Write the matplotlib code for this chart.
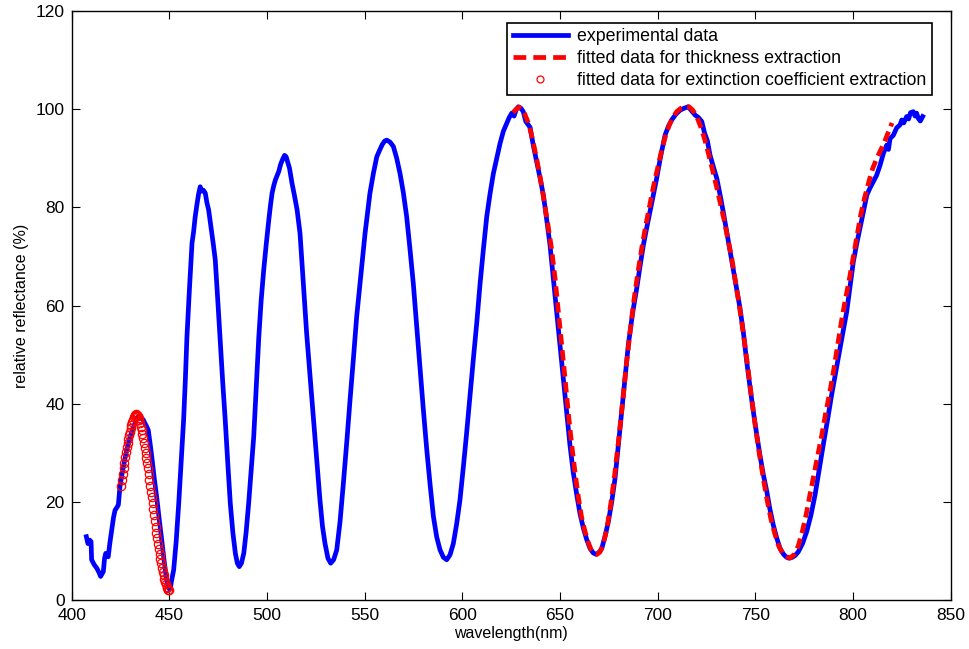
import numpy as np
import matplotlib
matplotlib.use("Agg")
import matplotlib.pyplot as plt
from matplotlib.lines import Line2D

plt.rcParams['font.family'] = ['Liberation Sans', 'DejaVu Sans']

# experimental data (wavelength nm, relative reflectance %)
exp_wl = [407.5, 408.3, 409.2, 409.9, 410.2, 411.5, 412.8, 414.0, 414.8, 415.5, 416.2, 416.8, 417.4, 418.0, 418.7,
          419.5, 420.5, 421.4, 422.2, 423.2, 423.9, 424.7, 425.8, 427.3, 428.6, 429.9, 431.2, 432.4, 433.2, 434.1,
          435.0, 436.0, 436.7, 437.5, 438.3, 439.2, 440.1, 441.0, 442.2, 443.5, 444.8, 446.1, 447.3, 448.6, 449.4,
          450.0, 450.6, 451.2, 452.2, 453.5, 454.8, 456.0, 457.3, 458.2, 459.0, 460.3, 461.6, 462.4, 463.2, 464.2,
          465.0, 465.8, 466.6, 467.4, 468.4, 469.2, 470.1, 471.5, 472.5, 473.5, 474.8, 476.1, 477.3, 478.6, 479.9,
          481.2, 482.5, 483.8, 484.8, 485.8, 486.9, 488.1, 489.3, 490.6, 491.9, 493.2, 494.5, 495.8, 497.0, 498.3,
          499.6, 500.9, 501.8, 502.6, 503.5, 504.3, 505.2, 506.0, 507.0, 508.0, 509.0, 509.8, 510.6, 511.5, 512.8,
          514.0, 515.4, 516.9, 518.6, 520.3, 522.0, 523.7, 525.4, 527.1, 528.4, 529.7, 531.2, 532.6, 534.1, 535.7,
          537.4, 539.1, 540.8, 542.5, 544.2, 545.9, 547.6, 549.0, 550.2, 551.5, 552.7, 554.5, 556.2, 557.5, 559.0,
          560.2, 561.3, 563.0, 564.7, 566.4, 568.1, 569.8, 571.5, 573.2, 574.9, 576.6, 578.3, 580.0, 581.8, 583.5,
          585.2, 586.9, 588.6, 590.3, 592.0, 593.7, 595.4, 597.1, 598.8, 600.5, 602.2, 603.9, 605.6, 607.4, 609.1,
          610.8, 612.5, 614.2, 615.9, 617.6, 619.3, 621.0, 622.7, 624.0, 625.3, 626.5, 627.5, 628.7, 630.0, 631.2,
          632.5, 634.7, 636.4, 638.1, 639.8, 641.5, 643.2, 644.9, 646.6, 648.3, 650.0, 651.7, 653.4, 655.1, 656.8,
          658.6, 660.3, 662.0, 663.7, 665.4, 667.0, 668.5, 670.0, 671.4, 673.1, 674.8, 676.5, 678.2, 679.9, 681.6,
          683.3, 685.0, 687.2, 689.3, 691.0, 692.7, 694.4, 696.1, 697.8, 699.5, 701.6, 703.8, 705.5, 707.2, 709.4,
          711.5, 713.6, 715.7, 717.5, 719.2, 720.9, 722.6, 724.0, 725.5, 726.8, 728.5, 730.3, 732.0, 733.6, 735.4,
          737.1, 738.8, 740.5, 742.2, 743.9, 745.6, 747.3, 749.0, 750.7, 752.4, 754.1, 755.9, 757.5, 759.2, 761.0,
          762.7, 764.5, 766.0, 767.4, 769.0, 770.5, 772.0, 774.2, 776.3, 778.5, 780.6, 782.7, 784.8, 787.0, 789.1,
          791.2, 793.4, 795.1, 796.8, 798.5, 800.2, 801.9, 803.6, 805.3, 807.1, 808.8, 810.4, 812.1, 813.9, 815.6,
          817.3, 818.2, 819.0, 820.7, 822.4, 824.1, 825.0, 826.0, 827.5, 828.5, 829.5, 830.9, 831.8, 832.6, 833.5,
          834.5, 835.7]
exp_val = [12.9, 11.5, 12.2, 11.9, 8.2, 7.2, 6.5, 5.6, 4.8, 5.3, 5.8, 8.4, 9.5, 9.2, 8.8,
           11.5, 14.3, 16.8, 18.3, 18.9, 19.4, 23.1, 25.8, 28.9, 31.3, 33.3, 34.8, 36.0, 36.9, 37.3,
           37.0, 36.9, 36.7, 36.0, 35.4, 34.6, 32.0, 29.2, 25.0, 21.0, 16.5, 12.2, 8.0, 4.1, 2.8,
           2.2, 2.7, 4.1, 6.1, 12.0, 19.7, 28.0, 36.7, 45.0, 53.6, 63.5, 72.7, 75.0, 78.0, 80.8,
           82.8, 84.2, 83.3, 83.5, 82.9, 81.0, 79.5, 75.5, 72.5, 69.3, 61.0, 52.3, 44.5, 36.7, 28.0,
           19.7, 13.8, 9.5, 7.5, 6.8, 7.5, 9.5, 13.8, 19.7, 26.5, 33.3, 43.5, 53.6, 61.0, 67.2,
           72.5, 77.4, 80.5, 82.9, 84.5, 85.6, 86.5, 87.3, 88.8, 89.8, 90.6, 90.3, 89.2, 88.0, 84.9,
           82.5, 79.5, 74.7, 64.5, 54.3, 45.8, 37.3, 28.8, 20.4, 15.0, 11.5, 8.5, 7.5, 8.2, 10.2,
           16.0, 23.8, 32.0, 40.7, 49.0, 57.7, 64.5, 70.0, 74.7, 79.0, 82.9, 87.0, 90.3, 91.5, 92.8,
           93.5, 93.7, 93.3, 92.4, 90.0, 86.9, 83.0, 78.1, 71.5, 64.5, 56.0, 47.5, 39.0, 30.6, 23.5,
           17.0, 12.8, 10.2, 8.7, 8.2, 9.2, 11.5, 15.5, 20.4, 27.0, 34.0, 41.5, 48.9, 56.5, 64.5,
           71.5, 78.1, 82.8, 86.9, 90.0, 93.0, 95.5, 97.1, 98.3, 99.2, 98.6, 99.8, 100.5, 100.2, 99.5,
           97.5, 96.3, 92.5, 89.3, 86.0, 82.5, 77.5, 72.3, 65.5, 58.7, 52.0, 45.2, 38.3, 31.6, 26.0,
           21.4, 17.5, 14.6, 12.3, 10.5, 9.6, 9.3, 9.7, 10.5, 13.0, 16.0, 20.0, 24.8, 31.5, 38.4,
           45.2, 52.0, 58.5, 63.5, 68.0, 72.3, 75.8, 79.1, 82.5, 85.9, 90.5, 94.7, 96.5, 97.8, 99.0,
           99.8, 100.2, 100.5, 99.6, 98.8, 98.3, 97.5, 95.2, 93.5, 90.7, 88.3, 85.9, 82.5, 79.1, 75.0,
           71.0, 67.2, 63.5, 59.4, 54.5, 48.6, 43.4, 38.4, 33.8, 29.5, 25.6, 22.1, 18.5, 15.3, 12.6,
           10.5, 9.3, 8.7, 8.5, 8.7, 9.1, 9.8, 11.5, 13.9, 17.3, 21.4, 26.5, 31.6, 36.7, 41.8,
           46.5, 51.3, 55.0, 58.7, 63.8, 68.9, 72.5, 75.7, 79.0, 82.5, 84.0, 85.2, 86.5, 88.6, 91.0,
           92.7, 91.8, 94.0, 94.7, 96.2, 96.8, 97.8, 97.2, 98.5, 98.0, 99.3, 99.5, 98.6, 99.2, 98.1,
           97.6, 98.5]

# fitted data for thickness extraction
fit_wl = [626.0, 627.5, 629.0, 630.5, 632.0, 634.0, 636.0, 638.0, 640.0, 642.0, 644.0, 645.7, 647.5, 649.1, 651.0,
          652.5, 654.3, 655.9, 657.7, 659.4, 661.0, 662.8, 664.5, 666.0, 667.5, 669.0, 670.5, 672.0, 674.0, 676.0,
          678.0, 680.0, 682.0, 684.0, 686.0, 688.0, 690.0, 692.0, 694.0, 696.0, 698.0, 700.0, 702.0, 704.0, 706.0,
          708.0, 710.0, 712.0, 714.0, 716.0, 718.0, 720.0, 722.0, 724.0, 726.0, 728.0, 730.0, 732.0, 734.0, 736.0,
          738.0, 740.0, 742.0, 744.0, 746.0, 748.0, 750.0, 752.0, 754.0, 756.0, 758.0, 760.0, 762.0, 764.0, 766.0,
          768.0, 770.0, 772.0, 774.0, 776.0, 778.0, 780.0, 782.0, 784.0, 786.0, 788.0, 790.0, 792.0, 794.0, 796.0,
          798.0, 800.0, 802.0, 804.0, 806.0, 808.0, 810.0, 812.0, 814.0, 816.0, 818.0, 820.0]
fit_val = [99.3, 100.0, 100.4, 100.0, 99.0, 97.0, 93.8, 90.0, 85.8, 81.0, 76.0, 71.5, 65.5, 59.0, 51.5,
           45.5, 38.0, 32.0, 26.0, 21.0, 17.0, 14.0, 11.7, 10.2, 9.5, 9.3, 9.8, 11.2, 14.5, 19.5,
           25.5, 32.5, 40.0, 48.0, 55.0, 61.5, 67.0, 72.0, 76.5, 80.5, 84.5, 88.0, 91.5, 94.5, 96.8,
           98.5, 99.6, 100.2, 100.5, 100.5, 99.8, 98.5, 96.5, 94.0, 91.0, 87.8, 84.5, 81.0, 77.5, 73.5,
           69.5, 64.5, 59.5, 54.0, 48.0, 41.5, 35.5, 30.0, 25.0, 20.5, 16.5, 13.5, 11.0, 9.5, 8.8,
           8.6, 9.3, 11.0, 13.8, 17.3, 21.5, 25.5, 29.5, 33.5, 38.0, 42.0, 46.5, 51.5, 56.5, 61.0,
           65.0, 69.5, 74.0, 78.5, 82.0, 85.0, 87.8, 89.8, 91.5, 93.2, 95.2, 97.2]

# fitted data for extinction coefficient extraction
ext_wl = [425.4, 425.8, 426.2, 426.6, 427.0, 427.4, 427.8, 428.2, 428.6, 429.0, 429.4, 429.8, 430.2, 430.6, 431.0,
          431.4, 431.8, 432.2, 432.6, 433.0, 433.4, 433.8, 434.2, 434.6, 435.0, 435.4, 435.8, 436.2, 436.6, 437.0,
          437.4, 437.8, 438.2, 438.6, 439.0, 439.4, 439.8, 440.2, 440.6, 441.0, 441.4, 441.8, 442.2, 442.6, 443.0,
          443.4, 443.8, 444.2, 444.6, 445.0, 445.4, 445.8, 446.2, 446.6, 447.0, 447.4, 447.8, 448.2, 448.6, 449.0,
          449.4, 449.8]
ext_val = [23.2, 24.5, 25.7, 26.9, 28.0, 29.2, 30.2, 31.1, 32.0, 32.8, 33.6, 34.3, 35.0, 35.6, 36.2,
           36.7, 37.2, 37.5, 37.7, 37.8, 37.7, 37.5, 37.1, 36.6, 36.0, 35.3, 34.6, 33.8, 33.0, 32.0,
           31.0, 30.0, 29.0, 27.9, 26.8, 25.7, 24.5, 23.3, 22.1, 20.9, 19.7, 18.5, 17.3, 16.1, 14.9,
           13.7, 12.6, 11.5, 10.4, 9.4, 8.4, 7.5, 6.6, 5.8, 5.0, 4.3, 3.7, 3.2, 2.7, 2.4,
           2.1, 2.0]

x_ticks = [400, 450, 500, 550, 600, 650, 700, 750, 800, 850]
y_ticks = [0, 20, 40, 60, 80, 100, 120]

fig = plt.figure(figsize=(9.69, 6.49), dpi=100)
ax = fig.add_axes([0.074, 0.0755, 0.907, 0.9075])

ax.plot(exp_wl, exp_val, color=(0, 0, 1), lw=3.4, solid_joinstyle='round',
        label='experimental data', zorder=2)
ax.plot(fit_wl, fit_val, color=(1, 0, 0), lw=3.4, ls=(0, (2.2, 1.2)),
        dash_capstyle='butt', label='fitted data for thickness extraction', zorder=3)
ax.plot(ext_wl, ext_val, ls='none', marker='o', ms=6, mfc='none', mec=(1, 0, 0), mew=0.9,
        label='fitted data for extinction coefficient extraction', zorder=4)

ax.set_xlim(400, 850)
ax.set_ylim(0, 120)
ax.set_xticks(x_ticks)
ax.set_yticks(y_ticks)
ax.tick_params(direction='in', length=6, width=0.8, top=True, right=True, labelsize=12.5)
ax.tick_params(axis='x', pad=6)
ax.tick_params(axis='y', pad=5)
for s in ax.spines.values():
    s.set_linewidth(1.0)
ax.set_xlabel('wavelength(nm)', fontsize=11.5, labelpad=2)
ax.set_ylabel('relative reflectance (%)', fontsize=11.5, labelpad=5)

handles = [Line2D([], [], color=(0, 0, 1), lw=3.4),
           Line2D([], [], color=(1, 0, 0), lw=3.4, ls=(0, (2.7, 1.5)), dash_capstyle='butt'),
           Line2D([], [], ls='none', marker='o', ms=5, mfc='none', mec=(1, 0, 0), mew=0.9)]
labels = ['experimental data', 'fitted data for thickness extraction',
          'fitted data for extinction coefficient extraction']
leg = ax.legend(handles, labels, loc='upper right', bbox_to_anchor=(0.9785, 0.98),
                fontsize=12.75, frameon=True, fancybox=False, framealpha=1, edgecolor='black',
                handlelength=3.1, handletextpad=0.5, labelspacing=0.27, borderpad=0.32,
                borderaxespad=0)
leg.get_frame().set_linewidth(1.2)

fig.savefig('out.png', dpi=100)
